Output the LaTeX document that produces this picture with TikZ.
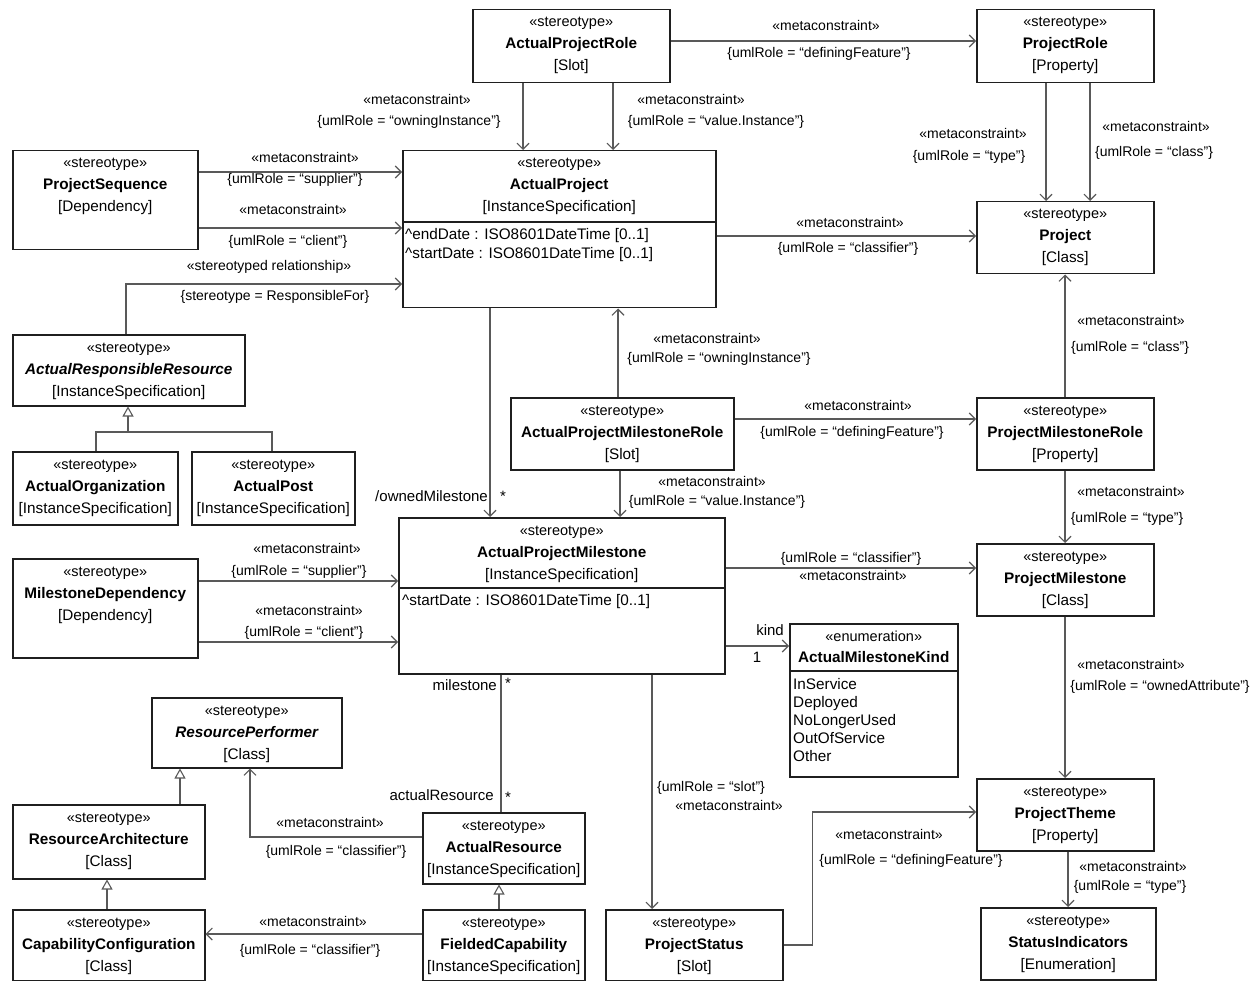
\documentclass[tikz,border=0pt]{standalone}
\usepackage{fontspec}
\setmainfont{Liberation Sans}
\usetikzlibrary{arrows.meta}
\tikzset{
  box/.style={draw=black!88, line width=1.5pt, inner sep=0pt, anchor=north west, fill=white},
  stt/.style={font=\fontsize{14.5}{17}\selectfont, anchor=base, inner sep=0pt},
  nmt/.style={font=\fontsize{15.3}{18}\selectfont\bfseries, anchor=base, inner sep=0pt},
  mtt/.style={font=\fontsize{15.3}{18}\selectfont, anchor=base, inner sep=0pt},
  attr/.style={font=\fontsize{15.3}{18}\selectfont, anchor=base west, inner sep=0pt},
  lbl/.style={font=\fontsize{14}{16}\selectfont, inner sep=0pt, text height=10pt, text depth=3pt},
  role/.style={font=\fontsize{15}{17}\selectfont, inner sep=0pt, text height=10pt, text depth=3pt},
  conn/.style={draw=black!65, line width=1.2pt},
  arr/.style={conn, -{Straight Barb[length=6pt,width=12pt,line width=1.1pt]}},
  gen/.style={conn, -{Triangle[open,length=10pt,width=11pt,fill=white,line width=1.1pt]}},
}
\newcommand\cls[8]{%
  \node[box, minimum width=#4pt, minimum height=#5pt] (#1) at (#2,#3) {};
  \node[stt] (#1-s) at ([yshift=-18pt]#1.north) {#6};
  \node[nmt] (#1-n) at ([yshift=-40pt]#1.north) {#7};
  \node[mtt] (#1-m) at ([yshift=-62pt]#1.north) {#8};
}
\newcommand\q[1]{“#1”}
\begin{document}
\begin{tikzpicture}[x=1pt,y=-1pt]
\fill[white] (0,0) rectangle (1257,981);
\useasboundingbox (0,0) rectangle (1257,981);

% classes
\cls{apr}{472}{9}{197}{73}{«stereotype»}{ActualProjectRole}{[Slot]}
\cls{pr}{976}{9}{177}{73}{«stereotype»}{ProjectRole}{[Property]}
\cls{ps}{12}{150}{185}{99}{«stereotype»}{ProjectSequence}{[Dependency]}
\cls{ap}{402}{150}{313}{157}{«stereotype»}{ActualProject}{[InstanceSpecification]}
\cls{proj}{976}{201}{177}{72}{«stereotype»}{Project}{[Class]}
\cls{arr}{12}{334}{232}{71}{«stereotype»}{\itshape ActualResponsibleResource}{[InstanceSpecification]}
\cls{ao}{12}{451}{165}{73}{«stereotype»}{ActualOrganization}{[InstanceSpecification]}
\cls{apost}{191}{451}{163}{73}{«stereotype»}{ActualPost}{[InstanceSpecification]}
\cls{apmr}{510}{397}{223}{72}{«stereotype»}{ActualProjectMilestoneRole}{[Slot]}
\cls{pmr}{976}{397}{177}{72}{«stereotype»}{ProjectMilestoneRole}{[Property]}
\cls{md}{12}{558}{185}{99}{«stereotype»}{MilestoneDependency}{[Dependency]}
\cls{apm}{398}{517}{326}{156}{«stereotype»}{ActualProjectMilestone}{[InstanceSpecification]}
\cls{pm}{976}{543}{177}{72}{«stereotype»}{ProjectMilestone}{[Class]}
\cls{rp}{151}{697}{190}{70}{«stereotype»}{\itshape ResourcePerformer}{[Class]}
\cls{ra}{12}{804}{192}{74}{«stereotype»}{ResourceArchitecture}{[Class]}
\cls{pt}{976}{778}{177}{72}{«stereotype»}{ProjectTheme}{[Property]}
\cls{ar}{422}{812}{162}{71}{«stereotype»}{ActualResource}{[InstanceSpecification]}
\cls{cc}{12}{909}{192}{71}{«stereotype»}{CapabilityConfiguration}{[Class]}
\cls{fc}{422}{909}{162}{71}{«stereotype»}{FieldedCapability}{[InstanceSpecification]}
\cls{pstat}{605}{909}{177}{71}{«stereotype»}{ProjectStatus}{[Slot]}
\cls{si}{980}{907}{175}{72}{«stereotype»}{StatusIndicators}{[Enumeration]}

% compartments
\draw[line width=1.5pt, draw=black!88] ([yshift=-72pt]ap.north west) -- ([yshift=-72pt]ap.north east);
\node[attr] (ap-a1) at ([xshift=3pt,yshift=-90pt]ap.north west) {\textasciicircum endDate : ISO8601DateTime [0..1]};
\node[attr] (ap-a2) at ([xshift=3pt,yshift=-109pt]ap.north west) {\textasciicircum startDate : ISO8601DateTime [0..1]};
\draw[line width=1.5pt, draw=black!88] ([yshift=-71pt]apm.north west) -- ([yshift=-71pt]apm.north east);
\node[attr] (apm-a1) at ([xshift=4pt,yshift=-88pt]apm.north west) {\textasciicircum startDate : ISO8601DateTime [0..1]};

% enumeration
\node[box, minimum width=168pt, minimum height=153pt] (amk) at (789,623) {};
\node[stt] (amk-s) at ([yshift=-18pt]amk.north) {«enumeration»};
\node[nmt] (amk-n) at ([yshift=-39pt]amk.north) {ActualMilestoneKind};
\draw[line width=1.5pt, draw=black!88] ([yshift=-48pt]amk.north west) -- ([yshift=-48pt]amk.north east);
\node[attr] (amk-1) at ([xshift=4pt,yshift=-66pt]amk.north west) {InService};
\node[attr] (amk-2) at ([xshift=4pt,yshift=-84pt]amk.north west) {Deployed};
\node[attr] (amk-3) at ([xshift=4pt,yshift=-102pt]amk.north west) {NoLongerUsed};
\node[attr] (amk-4) at ([xshift=4pt,yshift=-120pt]amk.north west) {OutOfService};
\node[attr] (amk-5) at ([xshift=4pt,yshift=-138pt]amk.north west) {Other};

% connectors
\draw[arr] ([xshift=51pt]apr.south west) -- ([xshift=121pt]ap.north west);
\draw[arr] ([xshift=141pt]apr.south west) -- ([xshift=211pt]ap.north west);
\draw[arr] ([yshift=-32pt]apr.north east) -- ([yshift=-32pt]pr.north west);
\draw[arr] ([xshift=70pt]pr.south west) -- ([xshift=70pt]proj.north west);
\draw[arr] ([xshift=114pt]pr.south west) -- ([xshift=114pt]proj.north west);
\draw[arr] ([yshift=-22pt]ps.north east) -- ([yshift=-22pt]ap.north west);
\draw[arr] ([yshift=-78pt]ps.north east) -- ([yshift=-78pt]ap.north west);
\draw[arr] ([xshift=114pt]arr.north west) |- ([yshift=-134pt]ap.north west);
\draw[arr] ([yshift=-86pt]ap.north east) -- ([yshift=-35pt]proj.north west);
\draw[arr] ([xshift=88pt]ap.south west) -- ([xshift=92pt]apm.north west);
\draw[arr] ([xshift=108pt]apmr.north west) -- ([xshift=216pt]ap.south west);
\draw[arr] ([xshift=110pt]apmr.south west) -- ([xshift=222pt]apm.north west);
\draw[arr] ([yshift=-22pt]apmr.north east) -- ([yshift=-22pt]pmr.north west);
\draw[arr] ([xshift=89pt]pmr.north west) -- ([xshift=89pt]proj.south west);
\draw[arr] ([xshift=89pt]pmr.south west) -- ([xshift=89pt]pm.north west);
\draw[arr] ([yshift=-51pt]apm.north east) -- ([yshift=-25pt]pm.north west);
\draw[arr] ([yshift=-129pt]apm.north east) -- ([yshift=-23pt]amk.north west);
\draw[arr] ([xshift=89pt]pm.south west) -- ([xshift=89pt]pt.north west);
\draw[arr] ([xshift=92pt]pt.south west) -- ([xshift=88pt]si.north west);
\draw[arr] ([yshift=-36pt]pstat.north east) -- ++(29,0) |- ([yshift=-34pt]pt.north west);
\draw[arr] ([xshift=254pt]apm.south west) -- ([xshift=47pt]pstat.north west);
\draw[conn] ([xshift=103pt]apm.south west) -- ([xshift=79pt]ar.north west);
\draw[arr] ([yshift=-25pt]ar.north west) -| ([xshift=99pt]rp.south west);
\draw[arr] ([yshift=-25pt]fc.north west) -- ([yshift=-25pt]cc.north east);
\draw[gen] ([xshift=168pt]ra.north west) -- ([xshift=29pt]rp.south west);
\draw[gen] ([xshift=95pt]cc.north west) -- ([xshift=95pt]ra.south west);
\draw[gen] ([xshift=77pt]fc.north west) -- ([xshift=77pt]ar.south west);
\coordinate (gj) at (128,432);
\draw[conn] ([xshift=84pt]ao.north west) |- (gj) -| ([xshift=81pt]apost.north west);
\draw[gen] (gj) -- ([xshift=116pt]arr.south west);
\draw[arr] ([yshift=-23pt]md.north east) -- ([yshift=-64pt]apm.north west);
\draw[arr] ([yshift=-84pt]md.north east) -- ([yshift=-125pt]apm.north west);

% labels
\node[lbl] (l1) at (417,101) {«metaconstraint»};
\node[lbl] (l2) at (409,122) {\{umlRole = \q{owningInstance}\}};
\node[lbl] (l3) at (691,101) {«metaconstraint»};
\node[lbl] (l4) at (716,122) {\{umlRole = \q{value.Instance}\}};
\node[lbl] (l5) at (826,27) {«metaconstraint»};
\node[lbl] (l6) at (819,54) {\{umlRole = \q{definingFeature}\}};
\node[lbl] (l7) at (973,135) {«metaconstraint»};
\node[lbl] (l8) at (969,157) {\{umlRole = \q{type}\}};
\node[lbl] (l9) at (1156,128) {«metaconstraint»};
\node[lbl] (l10) at (1154,153) {\{umlRole = \q{class}\}};
\node[lbl] (l11) at (305,159) {«metaconstraint»};
\node[lbl] (l12) at (295,180) {\{umlRole = \q{supplier}\}};
\node[lbl] (l13) at (293,211) {«metaconstraint»};
\node[lbl] (l14) at (288,242) {\{umlRole = \q{client}\}};
\node[lbl] (l15) at (269,267) {«stereotyped relationship»};
\node[lbl] (l16) at (275,297) {\{stereotype = ResponsibleFor\}};
\node[lbl] (l17) at (850,224) {«metaconstraint»};
\node[lbl] (l18) at (848,249) {\{umlRole = \q{classifier}\}};
\node[role, anchor=east] (l19) at (488,498) {/ownedMilestone};
\node[role] (l20) at (503,498) {*};
\node[lbl] (l21) at (707,340) {«metaconstraint»};
\node[lbl] (l22) at (719,359) {\{umlRole = \q{owningInstance}\}};
\node[lbl] (l23) at (712,483) {«metaconstraint»};
\node[lbl] (l24) at (717,502) {\{umlRole = \q{value.Instance}\}};
\node[lbl] (l25) at (858,407) {«metaconstraint»};
\node[lbl] (l26) at (852,433) {\{umlRole = \q{definingFeature}\}};
\node[lbl] (l27) at (1131,322) {«metaconstraint»};
\node[lbl] (l28) at (1130,348) {\{umlRole = \q{class}\}};
\node[lbl] (l29) at (1131,493) {«metaconstraint»};
\node[lbl] (l30) at (1127,519) {\{umlRole = \q{type}\}};
\node[lbl] (l31) at (851,559) {\{umlRole = \q{classifier}\}};
\node[lbl] (l32) at (853,577) {«metaconstraint»};
\node[role] (l33) at (770,632) {kind};
\node[role] (l34) at (757,659) {1};
\node[lbl] (l35) at (1131,666) {«metaconstraint»};
\node[lbl] (l36) at (1160,687) {\{umlRole = \q{ownedAttribute}\}};
\node[lbl] (l37) at (1133,868) {«metaconstraint»};
\node[lbl] (l38) at (1130,887) {\{umlRole = \q{type}\}};
\node[lbl] (l39) at (889,836) {«metaconstraint»};
\node[lbl] (l40) at (911,861) {\{umlRole = \q{definingFeature}\}};
\node[lbl] (l41) at (711,788) {\{umlRole = \q{slot}\}};
\node[lbl] (l42) at (729,807) {«metaconstraint»};
\node[role, anchor=east] (l43) at (497,687) {milestone};
\node[role] (l44) at (508,685) {*};
\node[role, anchor=east] (l45) at (494,797) {actualResource};
\node[role] (l46) at (508,799) {*};
\node[lbl] (l47) at (330,824) {«metaconstraint»};
\node[lbl] (l48) at (336,852) {\{umlRole = \q{classifier}\}};
\node[lbl] (l49) at (313,923) {«metaconstraint»};
\node[lbl] (l50) at (310,951) {\{umlRole = \q{classifier}\}};
\node[lbl] (l51) at (307,550) {«metaconstraint»};
\node[lbl] (l52) at (299,572) {\{umlRole = \q{supplier}\}};
\node[lbl] (l53) at (309,612) {«metaconstraint»};
\node[lbl] (l54) at (304,633) {\{umlRole = \q{client}\}};
\end{tikzpicture}
\end{document}
